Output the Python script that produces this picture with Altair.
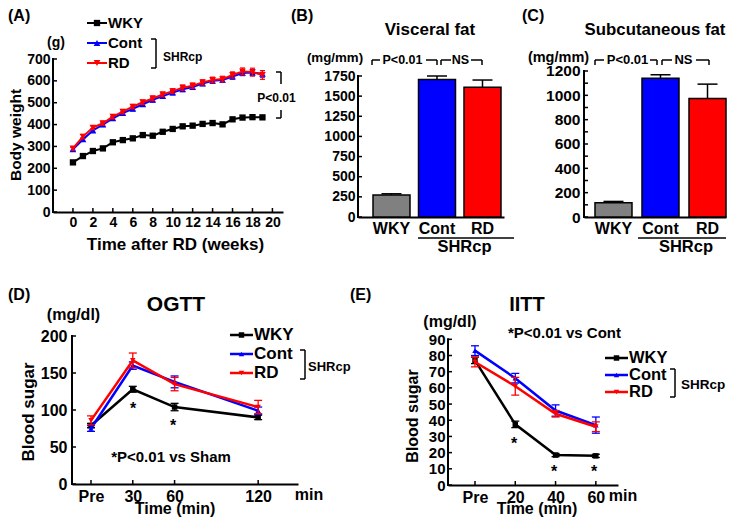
import altair as alt
import pandas as pd

FONT = "Liberation Sans"
BLACK, BLUE, RED, GRAY = "#000000", "#0000ff", "#ff0000", "#808080"

# ---------------- data ----------------
groups = ["WKY", "Cont", "RD"]
group_colors = [GRAY, BLUE, RED]

# (A) body weight (g) by week after RD
weeks = [0, 1, 2, 3, 4, 5, 6, 7, 8, 9, 10, 11, 12, 13, 14, 15, 16, 17, 18, 19]
bw_wky = [227, 256, 279, 291, 319, 329, 337, 352, 349, 367, 380, 392, 395, 403, 407, 401, 424, 432, 434, 433]
bw_wky_err = [8, 6, 6, 6, 6, 6, 6, 6, 7, 7, 7, 7, 7, 7, 7, 8, 8, 8, 8, 8]
bw_cont = [287, 332, 373, 400, 428, 452, 472, 493, 513, 530, 546, 561, 572, 588, 600, 604, 620, 636, 638, 632]
bw_cont_err = [8, 8, 8, 9, 9, 9, 9, 9, 10, 10, 10, 10, 10, 10, 11, 11, 12, 12, 14, 15]
bw_rd = [291, 345, 386, 406, 436, 459, 482, 502, 520, 538, 553, 569, 578, 593, 604, 608, 627, 643, 640, 627]
bw_rd_err = [8, 10, 9, 9, 10, 10, 10, 10, 11, 11, 11, 12, 12, 12, 13, 13, 14, 16, 18, 20]

# (B) visceral fat (mg/mm)
visceral = [273, 1708, 1609]
visceral_err = [15, 42, 91]

# (C) subcutaneous fat (mg/mm)
subcut = [117, 1141, 973]
subcut_err = [11, 28, 119]

# (D) OGTT blood sugar (mg/dl)
ogtt_time = [0, 30, 60, 120]
ogtt_wky = [79, 128, 104, 90]
ogtt_wky_err = [3, 4, 5, 3]
ogtt_cont = [75, 160, 138, 99]
ogtt_cont_err = [4, 5, 8, 5]
ogtt_rd = [86, 167, 135, 104]
ogtt_rd_err = [6, 10, 9, 9]

# (E) IITT blood sugar (mg/dl)
iitt_time = [0, 20, 40, 60]
iitt_wky = [77, 37.5, 18.5, 18]
iitt_wky_err = [2, 2, 1, 1]
iitt_cont = [83, 66, 46, 37]
iitt_cont_err = [3, 3, 3.5, 5]
iitt_rd = [76, 61, 44, 36]
iitt_rd_err = [3, 5.5, 2, 3]

# tick values
a_xticks = [0, 2, 4, 6, 8, 10, 12, 14, 16, 18, 20]
a_yticks = [0, 100, 200, 300, 400, 500, 600, 700]
b_yticks = [0, 250, 500, 750, 1000, 1250, 1500, 1750]
c_ylabels = [0, 200, 400, 600, 800, 1000, 1200]
c_yticks = [0, 100, 200, 300, 400, 500, 600, 700, 800, 900, 1000, 1100, 1200]
d_xticks = [0, 30, 60, 120]
d_yticks = [0, 50, 100, 150, 200]
e_xticks = [0, 20, 40, 60]
e_yticks = [0, 10, 20, 30, 40, 50, 60, 70, 80, 90]


# ---------------- helpers ----------------
def make_axis(size, pad, domain=True, values=None, label_expr=None, angle=None, fmt=None):
    kw = dict(labelFontSize=size, labelFont=FONT, labelFontWeight="bold", labelColor=BLACK,
              ticks=False, grid=False, title=None, labelPadding=pad, domain=domain,
              domainColor=BLACK, domainWidth=2, labelFlush=False, labelOverlap=False,
              labelBound=False)
    if values is not None:
        kw["values"] = values
    if label_expr is not None:
        kw["labelExpr"] = label_expr
    if angle is not None:
        kw["labelAngle"] = angle
    if fmt is not None:
        kw["format"] = fmt
    return alt.Axis(**kw)


class Panel:
    def __init__(self, ox, oy, w, h):
        self.ox, self.oy, self.w, self.h = ox, oy, w, h
        self.layers = []

    def text(self, s, x, y, size, align="center", angle=0, color=BLACK):
        self.layers.append(
            alt.Chart(pd.DataFrame({"t": [s]}))
            .mark_text(font=FONT, fontSize=size, fontWeight="bold", align=align,
                       baseline="middle", angle=angle, color=color)
            .encode(x=alt.value(x - self.ox), y=alt.value(y - self.oy), text="t:N"))

    def seg(self, x1, y1, x2, y2, w=1.5, color=BLACK, opacity=1):
        self.layers.append(
            alt.Chart(pd.DataFrame({"a": [0]}))
            .mark_rule(color=color, strokeWidth=w, opacity=opacity)
            .encode(x=alt.value(x1 - self.ox), y=alt.value(y1 - self.oy),
                    x2=alt.value(x2 - self.ox), y2=alt.value(y2 - self.oy)))

    def anchor(self, x, y):
        # invisible 1px rule used only to pin the layout bounds
        self.seg(x, y, x + 1, y, w=1, opacity=0)

    def marker(self, x, y, shape, size, color):
        self.layers.append(
            alt.Chart(pd.DataFrame({"a": [0]}))
            .mark_point(filled=True, shape=shape, size=size, color=color, opacity=1)
            .encode(x=alt.value(x - self.ox), y=alt.value(y - self.oy)))

    def legend(self, x1, x2, y, color, shape, label, fsize, msize, lw=2):
        self.seg(x1, y, x2, y, w=lw, color=color)
        self.marker((x1 + x2) / 2, y, shape, msize, color)
        self.text(label, x2 + 1, y, fsize, align="left")

    def bracket_right(self, x1, x2, y1, y2, w=1.5):
        self.seg(x1, y1, x2, y1, w)
        self.seg(x2, y1, x2, y2, w)
        self.seg(x1, y2, x2, y2, w)

    def yline(self, top, ysc, yax):
        self.layers.append(
            alt.Chart(pd.DataFrame({"lo": [0], "hi": [top]}))
            .mark_rule(color=BLACK, strokeWidth=2, strokeCap="square")
            .encode(y=alt.Y("lo:Q", scale=ysc, axis=yax), y2="hi:Q", x=alt.value(0)))

    def yticks(self, vals, ysc, yax, length=4):
        self.layers.append(
            alt.Chart(pd.DataFrame({"v": vals}))
            .mark_rule(color=BLACK, strokeWidth=1.5)
            .encode(y=alt.Y("v:Q", scale=ysc, axis=yax), x=alt.value(0), x2=alt.value(length)))

    def xticks(self, vals, xsc, xax, length=4):
        self.layers.append(
            alt.Chart(pd.DataFrame({"v": vals}))
            .mark_rule(color=BLACK, strokeWidth=1.5)
            .encode(x=alt.X("v:Q", scale=xsc, axis=xax), y=alt.value(self.h),
                    y2=alt.value(self.h - length)))

    def series(self, xs, ys, es, color, shape, msize, xsc, ysc, xax, yax, cap, lw, ew):
        d = pd.DataFrame({"x": xs, "y": ys,
                          "lo": [a - b for a, b in zip(ys, es)],
                          "hi": [a + b for a, b in zip(ys, es)]})
        base = alt.Chart(d)
        X = alt.X("x:Q", scale=xsc, axis=xax)

        def Y(f):
            return alt.Y(f + ":Q", scale=ysc, axis=yax)
        self.layers += [
            base.mark_rule(color=color, strokeWidth=ew).encode(x=X, y=Y("lo"), y2="hi:Q"),
            base.mark_tick(orient="horizontal", color=color, size=cap, thickness=ew, opacity=1)
            .encode(x=X, y=Y("hi")),
            base.mark_tick(orient="horizontal", color=color, size=cap, thickness=ew, opacity=1)
            .encode(x=X, y=Y("lo")),
            base.mark_line(color=color, strokeWidth=lw).encode(x=X, y=Y("y")),
            base.mark_point(filled=True, shape=shape, size=msize, color=color, opacity=1)
            .encode(x=X, y=Y("y")),
        ]

    def bars(self, vals, errs, xsc, ysc, xax, yax):
        d = pd.DataFrame({"grp": groups, "val": vals,
                          "hi": [a + b for a, b in zip(vals, errs)]})
        base = alt.Chart(d)
        X = alt.X("grp:N", scale=xsc, axis=xax, sort=groups)
        self.layers += [
            base.mark_bar(stroke=BLACK, strokeWidth=1.5).encode(
                x=X, y=alt.Y("val:Q", scale=ysc, axis=yax),
                color=alt.Color("grp:N", scale=alt.Scale(domain=groups, range=group_colors),
                                legend=None)),
            base.mark_rule(color=BLACK, strokeWidth=1.5).encode(
                x=X, y=alt.Y("val:Q", scale=ysc, axis=yax), y2="hi:Q"),
            base.mark_tick(orient="horizontal", color=BLACK, size=20, thickness=1.5,
                           opacity=1).encode(x=X, y=alt.Y("hi:Q", scale=ysc, axis=yax)),
        ]

    def chart(self):
        return alt.layer(*self.layers).properties(width=self.w, height=self.h)


def spacer(w, h):
    return (alt.Chart(pd.DataFrame({"a": [0]}))
            .mark_point(opacity=0, size=1)
            .encode(x=alt.value(1), y=alt.value(1))
            .properties(width=w, height=h))


# ---------------- panel A ----------------
A = Panel(53, 59, 230, 153)
axs = alt.Scale(domain=[-2.0, 21.06], nice=False, zero=False)
ays = alt.Scale(domain=[0, 700], nice=False)
axx = make_axis(14, 3.5, values=a_xticks)
axy = make_axis(14, 3, domain=False, values=a_yticks)
A.yline(700, ays, axy)
A.yticks(a_yticks, ays, axy)
A.xticks(a_xticks, axs, axx)
A.series(weeks, bw_wky, bw_wky_err, BLACK, "square", 40, axs, ays, axx, axy, 5, 2, 1.2)
A.series(weeks, bw_cont, bw_cont_err, BLUE, "triangle-up", 45, axs, ays, axx, axy, 5, 2, 1.2)
A.series(weeks, bw_rd, bw_rd_err, RED, "triangle-down", 45, axs, ays, axx, axy, 5, 2, 1.2)
A.anchor(8.5, 8.5)
A.text("(A)", 8, 16, 16, align="left")
A.text("(g)", 56, 43, 14)
A.legend(87, 107, 23, BLACK, "square", "WKY", 15, 40)
A.legend(87, 107, 43, BLUE, "triangle-up", "Cont", 15, 45)
A.legend(87, 107, 63, RED, "triangle-down", "RD", 15, 45)
A.bracket_right(151, 156, 39, 68)
A.text("SHRcp", 163, 57, 12, align="left")
A.text("Body weight", 16, 135, 15.5, angle=270)
A.text("Time after RD (weeks)", 175.5, 245, 17)
A.seg(276, 72, 281, 72)
A.seg(281, 72, 281, 84)
A.seg(281, 110, 281, 118)
A.seg(276, 118, 281, 118)
A.text("P<0.01", 276.5, 98, 12)

# ---------------- panel B ----------------
B = Panel(358, 59, 146, 158)
bxs = alt.Scale(domain=groups, paddingInner=0.187, paddingOuter=0.198, align=0.833)
bys = alt.Scale(domain=[0, 1961], nice=False)
bxa = make_axis(16, 3, angle=0)
bya = make_axis(14, 3, domain=False, values=b_yticks, fmt="d")
B.bars(visceral, visceral_err, bxs, bys, bxa, bya)
B.yline(1750, bys, bya)
B.yticks(b_yticks, bys, bya)
B.anchor(430, 261.5)
B.text("(B)", 291, 16, 16, align="left")
B.text("Visceral fat", 430, 30, 17)
B.text("(mg/mm)", 335, 58, 13.3)
B.seg(372, 60, 372, 65)
B.seg(372, 60, 380, 60)
B.text("P<0.01", 402.5, 60, 12.5)
B.seg(426, 60, 437, 60)
B.seg(437, 60, 437, 65)
B.seg(441, 60, 441, 65)
B.seg(441, 60, 451, 60)
B.text("NS", 460.5, 60, 12.5)
B.seg(471, 60, 482, 60)
B.seg(482, 60, 482, 65)
B.seg(418, 238, 514, 238)
B.text("SHRcp", 464.5, 247, 16.5)

# ---------------- panel C ----------------
C = Panel(584, 59, 142, 158)
cxs = alt.Scale(domain=groups, paddingInner=0.213, paddingOuter=0.117, align=1.0)
cys = alt.Scale(domain=[0, 1298.6], nice=False)
cxa = make_axis(16, 3, angle=0)
cya = make_axis(15.5, 4, domain=False, values=c_ylabels, fmt="d")
C.bars(subcut, subcut_err, cxs, cys, cxa, cya)
C.yline(1200, cys, cya)
C.yticks(c_yticks, cys, cya)
C.text("(C)", 522, 16, 16, align="left")
C.text("Subcutaneous fat", 655, 30, 16.8)
C.text("(mg/mm)", 558.5, 58, 14.5)
C.seg(595, 60, 595, 65)
C.seg(595, 60, 604, 60)
C.text("P<0.01", 627.5, 60, 13)
C.seg(650, 60, 657, 60)
C.seg(657, 60, 657, 65)
C.seg(662, 60, 662, 65)
C.seg(662, 60, 672, 60)
C.text("NS", 683.5, 60, 13)
C.seg(696, 60, 709, 60)
C.seg(709, 60, 709, 65)
C.seg(638, 238, 726, 238)
C.text("SHRcp", 686, 247, 16.5)

# ---------------- panel D ----------------
D = Panel(72, 336, 226, 148)
dxs = alt.Scale(domain=[-13.64, 148.6], nice=False, zero=False)
dys = alt.Scale(domain=[0, 200], nice=False)
dxa = make_axis(16, 4, values=d_xticks, label_expr="datum.value === 0 ? 'Pre' : datum.label")
dya = make_axis(16, 5, domain=False, values=d_yticks)
D.yline(200, dys, dya)
D.yticks(d_yticks, dys, dya)
D.xticks(d_xticks, dxs, dxa)
D.series(ogtt_time, ogtt_wky, ogtt_wky_err, BLACK, "square", 30, dxs, dys, dxa, dya, 8, 2.5, 1.3)
D.series(ogtt_time, ogtt_cont, ogtt_cont_err, BLUE, "triangle-up", 30, dxs, dys, dxa, dya, 8, 2.5, 1.3)
D.series(ogtt_time, ogtt_rd, ogtt_rd_err, RED, "triangle-down", 30, dxs, dys, dxa, dya, 8, 2.5, 1.3)
D.anchor(150, 278.5)
D.text("(D)", 8, 295, 16, align="left")
D.text("OGTT", 176, 305, 21)
D.text("(mg/dl)", 73.5, 315, 16)
D.text("Blood sugar", 29, 412, 17, angle=270)
D.legend(230, 253, 335, BLACK, "square", "WKY", 17, 30, 2.5)
D.legend(230, 253, 354, BLUE, "triangle-up", "Cont", 17, 30, 2.5)
D.legend(230, 253, 373, RED, "triangle-down", "RD", 17, 30, 2.5)
D.bracket_right(300, 305, 350, 379)
D.text("SHRcp", 308, 367, 13, align="left")
D.text("*", 133, 409, 16)
D.text("*", 173, 426, 16)
D.text("*P<0.01 vs Sham", 171, 457, 15)
D.text("min", 309, 495, 16)
D.text("Time (min)", 175, 509, 16)

# ---------------- panel E ----------------
E = Panel(448, 336, 170, 149)
exs = alt.Scale(domain=[-13.4, 71], nice=False, zero=False)
eys = alt.Scale(domain=[0, 92.05], nice=False)
exa = make_axis(16, 4, values=e_xticks, label_expr="datum.value === 0 ? 'Pre' : datum.label")
eya = make_axis(15, 3, domain=False, values=e_yticks)
E.yline(90, eys, eya)
E.yticks(e_yticks, eys, eya)
E.xticks(e_xticks, exs, exa)
E.series(iitt_time, iitt_wky, iitt_wky_err, BLACK, "square", 30, exs, eys, exa, eya, 8, 2.5, 1.3)
E.series(iitt_time, iitt_cont, iitt_cont_err, BLUE, "triangle-up", 30, exs, eys, exa, eya, 8, 2.5, 1.3)
E.series(iitt_time, iitt_rd, iitt_rd_err, RED, "triangle-down", 30, exs, eys, exa, eya, 8, 2.5, 1.3)
E.text("(E)", 350, 295, 16, align="left")
E.text("IITT", 527, 305, 20)
E.text("(mg/dl)", 450, 322, 16)
E.text("*P<0.01 vs Cont", 564.5, 333, 15)
E.text("Blood sugar", 413, 416, 16, angle=270)
E.legend(605, 628, 358, BLACK, "square", "WKY", 16.5, 30, 2.5)
E.legend(605, 628, 375, BLUE, "triangle-up", "Cont", 16.5, 30, 2.5)
E.legend(605, 628, 392, RED, "triangle-down", "RD", 16.5, 30, 2.5)
E.bracket_right(670, 675, 369, 397)
E.text("SHRcp", 681, 385, 13.5, align="left")
E.text("*", 514, 444, 16)
E.text("*", 554, 472, 16)
E.text("*", 594, 472, 16)
E.text("min", 623, 496, 16)
E.text("Time (min)", 537, 509, 16)

row1 = alt.hconcat(A.chart(), spacer(75, 158), B.chart(), spacer(80, 158), C.chart(),
                   spacing=0, bounds="flush")
row2 = alt.hconcat(spacer(19, 10), D.chart(), spacer(150, 10), E.chart(),
                   spacing=0, bounds="flush")

chart = (alt.vconcat(row1, row2, spacing=16)
         .properties(padding=0)
         .configure_view(strokeWidth=0))

chart.save("out.html", embed_options={"renderer": "svg", "actions": False})
